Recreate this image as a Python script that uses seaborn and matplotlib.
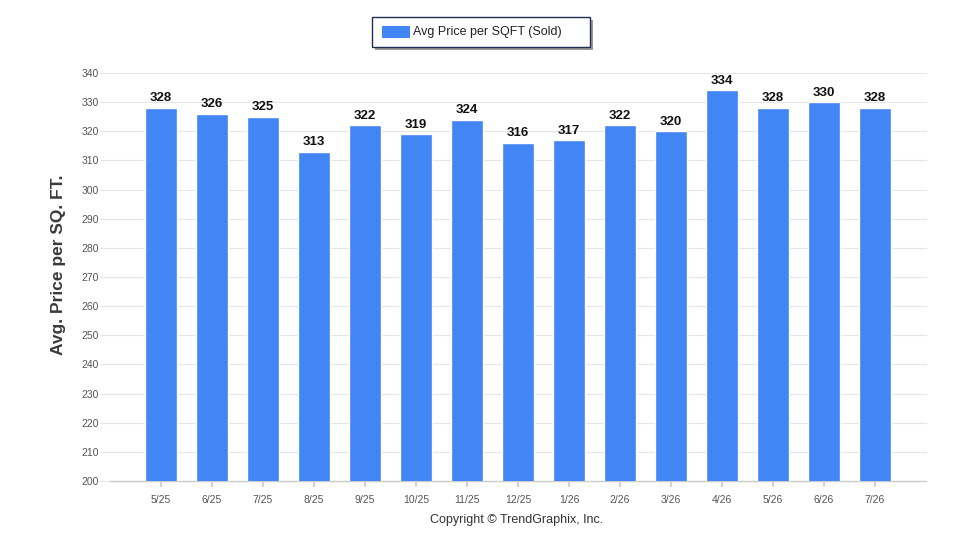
import matplotlib

matplotlib.use("Agg")
import matplotlib.pyplot as plt
import seaborn as sns
import pandas as pd
from matplotlib.patches import Rectangle

# データ
months = ["5/25", "6/25", "7/25", "8/25", "9/25", "10/25", "11/25", "12/25",
          "1/26", "2/26", "3/26", "4/26", "5/26", "6/26", "7/26"]
avg_price = [328, 326, 325, 313, 322, 319, 324, 316, 317, 322, 320, 334, 328, 330, 328]
y_ticks = list(range(200, 341, 10))

df = pd.DataFrame({"month": months, "price": avg_price})

sns.set_theme(style="white")
plt.rcParams["font.family"] = ["Liberation Sans", "DejaVu Sans"]

fig = plt.figure(figsize=(9.6, 5.5), dpi=100)
ax = fig.add_axes([0.1146, 0.1255, 0.85, 0.7418])

bar_color = "#4285F4"
sns.barplot(data=df, x="month", y="price", color=bar_color, width=0.63,
            saturation=1, ax=ax, zorder=3)

ax.set_xlim(-1, len(months))
ax.set_ylim(200, 340)

# グリッド線
for v in y_ticks:
    ax.axhline(v, xmin=-0.012, xmax=1, color="#e6e6e6", lw=0.8, zorder=0, clip_on=False)

ax.set_yticks(y_ticks)
ax.set_yticklabels([str(v) for v in y_ticks], fontsize=7.5, color="#555555")
ax.tick_params(axis="y", length=0, pad=8)
ax.tick_params(axis="x", length=4, color="#cccccc", labelsize=7.5, labelcolor="#555555",
               pad=6, direction="out", bottom=True)

for s in ["top", "right", "left"]:
    ax.spines[s].set_visible(False)
ax.spines["bottom"].set_color("#cccccc")
ax.spines["bottom"].set_linewidth(1)

ax.set_xlabel("")
ax.set_ylabel("Avg. Price per SQ. FT.", fontsize=12.5, fontweight="bold", color="#3a3a3a")
ax.yaxis.set_label_coords(-0.054, 0.53)

# 値ラベル
for i, v in enumerate(avg_price):
    ax.text(i, v + 1.2, str(v), ha="center", va="bottom", fontsize=9.5,
            fontweight="bold", color="#111111", zorder=4)

# 凡例（影付きの箱）
shadow = Rectangle((0.3906, 0.9100), 0.2271, 0.0545, transform=fig.transFigure,
                   facecolor="#9a9a9a", edgecolor="none", zorder=1)
box = Rectangle((0.3875, 0.9145), 0.2271, 0.0545, transform=fig.transFigure,
                facecolor="white", edgecolor="#1f2f4f", lw=1, zorder=2)
fig.patches.extend([shadow, box])
fig.patches.append(Rectangle((0.3979, 0.9309), 0.0292, 0.0218, transform=fig.transFigure,
                             facecolor=bar_color, edgecolor="none", zorder=3))
fig.text(0.4302, 0.9418, "Avg Price per SQFT (Sold)", ha="left", va="center",
         fontsize=9, color="#222222", zorder=4)

fig.text(0.5385, 0.0545, "Copyright \u00a9 TrendGraphix, Inc.", ha="center", va="center",
         fontsize=9, color="#333333")

fig.savefig("out.png", dpi=100)
plt.close(fig)
